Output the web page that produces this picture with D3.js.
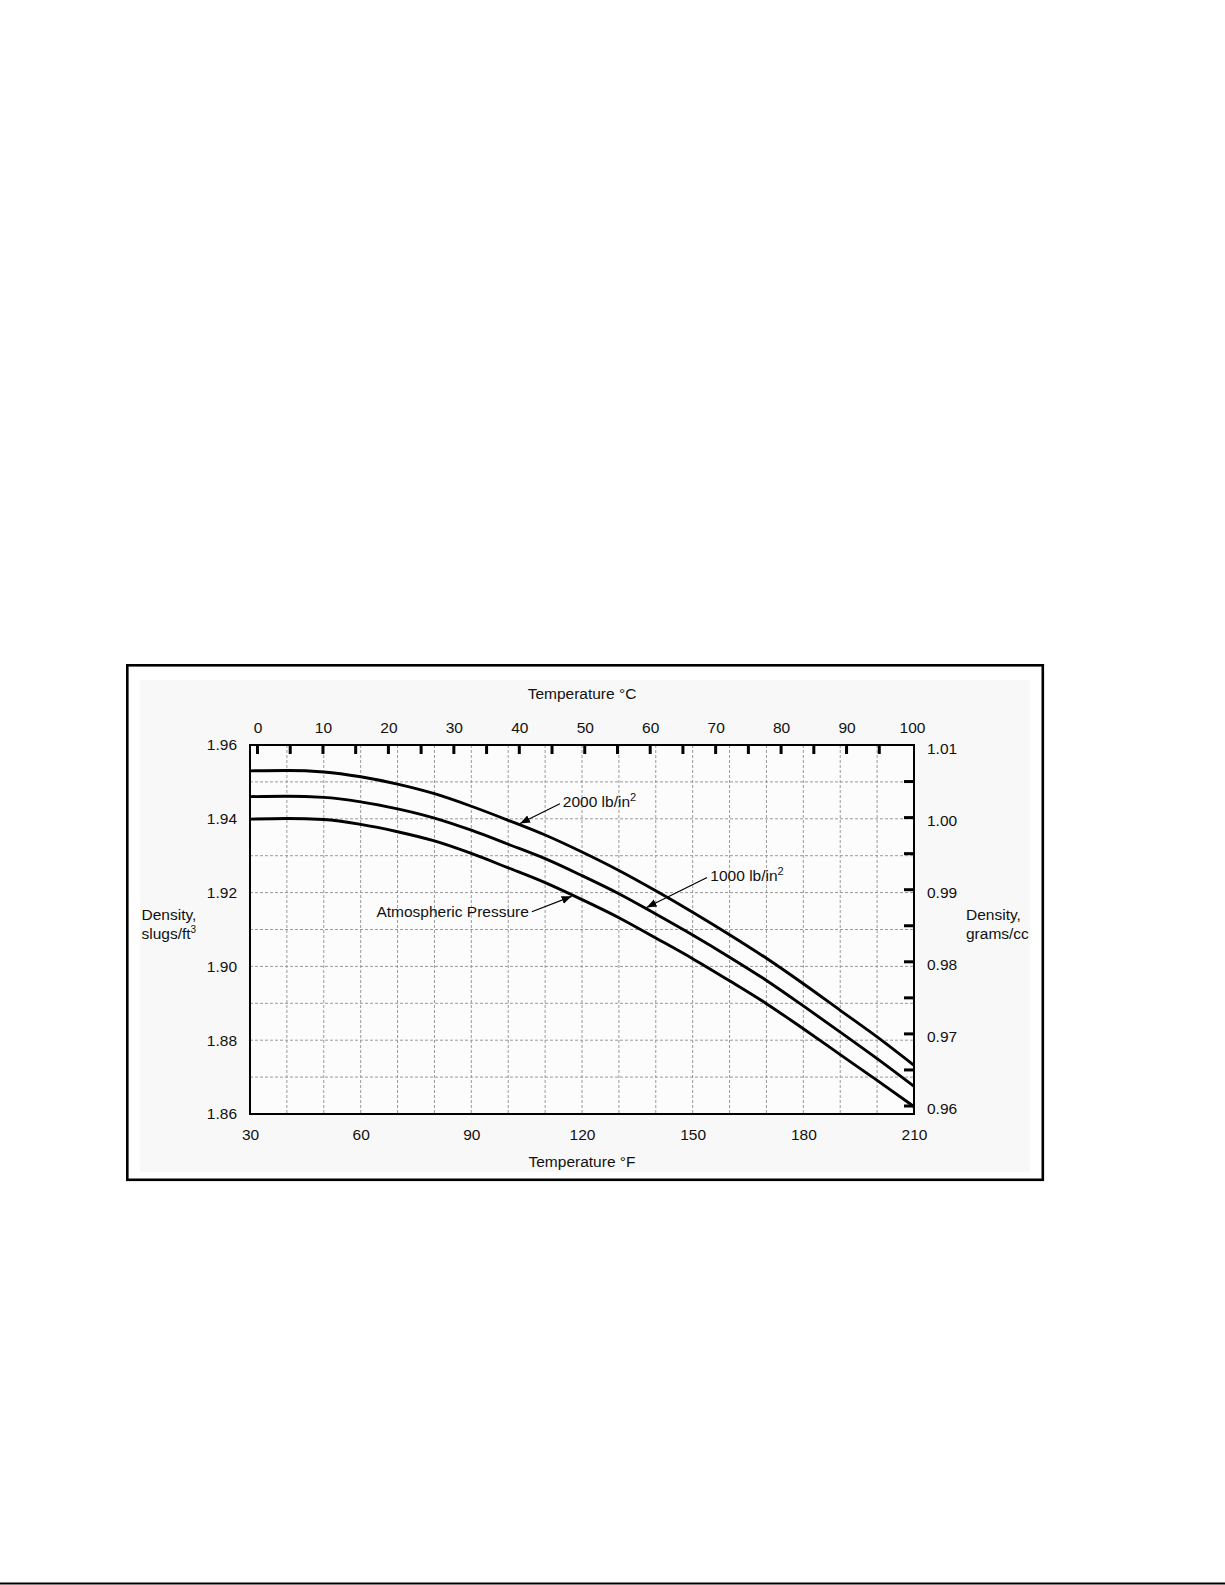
<!DOCTYPE html>
<html>
<head>
<meta charset="utf-8">
<script src="https://cdn.jsdelivr.net/npm/d3@7"></script>
<style>
  html, body { margin: 0; padding: 0; background: #fff; }
  svg { display: block; }
  text { font-family: "Liberation Sans", Arial, sans-serif; fill: #111; }
</style>
</head>
<body>
<svg id="chart" width="1225" height="1585"></svg>
<script>
// ---------------- data ----------------
const tempF = [30, 40, 50, 60, 70, 80, 90, 100, 110, 120, 130, 140, 150, 160, 170, 180, 190, 200, 210];
const densityAtm = [1.9399, 1.9401, 1.9398, 1.9385, 1.9365, 1.9340, 1.9306, 1.9267, 1.9227, 1.9181,
                    1.9132, 1.9077, 1.9021, 1.8961, 1.8899, 1.8831, 1.8761, 1.8691, 1.8620];
const density1000 = [1.9460, 1.9461, 1.9458, 1.9446, 1.9427, 1.9402, 1.9369, 1.9331, 1.9292, 1.9246,
                     1.9197, 1.9142, 1.9085, 1.9025, 1.8962, 1.8893, 1.8822, 1.8750, 1.8675];
const density2000 = [1.9530, 1.9531, 1.9527, 1.9514, 1.9494, 1.9468, 1.9434, 1.9396, 1.9356, 1.9310,
                     1.9260, 1.9205, 1.9147, 1.9086, 1.9022, 1.8953, 1.8881, 1.8809, 1.8732];

const fTickLabels = [30, 60, 90, 120, 150, 180, 210];
const fGrid = [40, 50, 60, 70, 80, 90, 100, 110, 120, 130, 140, 150, 160, 170, 180, 190, 200];
const cTickLabels = [0, 10, 20, 30, 40, 50, 60, 70, 80, 90, 100];
const cTickMarks = [0, 5, 10, 15, 20, 25, 30, 35, 40, 45, 50, 55, 60, 65, 70, 75, 80, 85, 90, 95];
const slugTickLabels = [1.86, 1.88, 1.90, 1.92, 1.94, 1.96];
const slugGrid = [1.87, 1.88, 1.89, 1.90, 1.91, 1.92, 1.93, 1.94, 1.95];
const gccTickLabels = [0.96, 0.97, 0.98, 0.99, 1.00, 1.01];
const gccTickMarks = [0.96, 0.965, 0.97, 0.975, 0.98, 0.985, 0.99, 0.995, 1.00, 1.005];

// annotations: label, label anchor (°F, slugs), arrow start (°F, slugs), arrow tip °F on series
const annotations = [
  { label: "2000 lb/in", sup: "2", anchor: "start", tx: 114.8, ty: 1.9432, sx: 114.0, sy: 1.9441, tipF: 103.2, series: 2 },
  { label: "1000 lb/in", sup: "2", anchor: "start", tx: 154.8, ty: 1.9231, sx: 153.9, sy: 1.9241, tipF: 137.5, series: 1 },
  { label: "Atmospheric Pressure", sup: "", anchor: "end", tx: 105.6, ty: 1.9133, sx: 106.4, sy: 1.9148, tipF: 117.2, series: 0 }
];

// ---------------- layout ----------------
const svg = d3.select("#chart");
const L = 250, R = 914, T = 745, B = 1114;
const FS = 15.5;

const x = d3.scaleLinear().domain([30, 210]).range([L, R]);
const y = d3.scaleLinear().domain([1.86, 1.96]).range([B, T]);
const xC = d3.scaleLinear().domain([0, 100]).range([257.5, 912]);
const yR = d3.scaleLinear().domain([0.96, 1.01]).range([1106, 745.5]);

// outer panel
svg.append("rect").attr("x", 140).attr("y", 680).attr("width", 890).attr("height", 492)
  .attr("fill", "#f8f8f8");
svg.append("rect").attr("x", 127.3).attr("y", 665.3).attr("width", 915.5).attr("height", 514.5)
  .attr("fill", "none").attr("stroke", "#000").attr("stroke-width", 2.6);

// bottom page rule
svg.append("line").attr("x1", 0).attr("x2", 1225).attr("y1", 1583.5).attr("y2", 1583.5)
  .attr("stroke", "#000").attr("stroke-width", 2);

// plot background
svg.append("rect").attr("x", L).attr("y", T).attr("width", R - L).attr("height", B - T).attr("fill", "#fcfcfc");

// grid
const grid = svg.append("g").attr("stroke", "#9a9a9a").attr("stroke-width", 1).attr("stroke-dasharray", "3,2");
grid.selectAll("line.v").data(fGrid).join("line").attr("class", "v")
  .attr("x1", d => x(d)).attr("x2", d => x(d)).attr("y1", T).attr("y2", B);
grid.selectAll("line.h").data(slugGrid).join("line").attr("class", "h")
  .attr("x1", L).attr("x2", R).attr("y1", d => y(d)).attr("y2", d => y(d));

// curves
const seriesList = [densityAtm, density1000, density2000];
const line = d3.line().x(d => x(d[0])).y(d => y(d[1])).curve(d3.curveMonotoneX);
svg.append("g").selectAll("path").data(seriesList).join("path")
  .attr("d", s => line(tempF.map((t, i) => [t, s[i]])))
  .attr("fill", "none").attr("stroke", "#000").attr("stroke-width", 2.9).attr("stroke-linejoin", "round");

// frame
svg.append("rect").attr("x", L).attr("y", T).attr("width", R - L).attr("height", B - T)
  .attr("fill", "none").attr("stroke", "#000").attr("stroke-width", 2);

// top (°C) tick marks, inward
svg.append("g").selectAll("line").data(cTickMarks).join("line")
  .attr("x1", d => xC(d)).attr("x2", d => xC(d)).attr("y1", T).attr("y2", T + 9)
  .attr("stroke", "#000").attr("stroke-width", 3);

// right (g/cc) tick marks, inward
svg.append("g").selectAll("line").data(gccTickMarks).join("line")
  .attr("x1", R - 10).attr("x2", R).attr("y1", d => yR(d)).attr("y2", d => yR(d))
  .attr("stroke", "#000").attr("stroke-width", 3);

function styleAxis(g) {
  g.select(".domain").remove();
  g.selectAll("text").attr("font-size", FS).attr("font-family", "Liberation Sans, Arial, sans-serif").attr("fill", "#111");
}

// axes
svg.append("g").attr("transform", `translate(${L},0)`)
  .call(d3.axisLeft(y).tickValues(slugTickLabels).tickFormat(d3.format(".2f")).tickSize(0).tickPadding(13))
  .call(styleAxis);
svg.append("g").attr("transform", `translate(${R},0)`)
  .call(d3.axisRight(yR).tickValues(gccTickLabels).tickFormat(d3.format(".2f")).tickSize(0).tickPadding(13))
  .call(styleAxis)
  .selectAll("text").attr("dy", "0.5em");
svg.append("g").attr("transform", `translate(0,${B})`)
  .call(d3.axisBottom(x).tickValues(fTickLabels).tickFormat(d3.format("d")).tickSize(0).tickPadding(15))
  .call(styleAxis);
svg.append("g").attr("transform", `translate(0,${T})`)
  .call(d3.axisTop(xC).tickValues(cTickLabels).tickFormat(d3.format("d")).tickSize(0).tickPadding(12.5))
  .call(styleAxis);

// axis titles
svg.append("text").attr("x", 582).attr("y", 699).attr("text-anchor", "middle").attr("font-size", FS).text("Temperature °C");
svg.append("text").attr("x", 582).attr("y", 1167).attr("text-anchor", "middle").attr("font-size", FS).text("Temperature °F");

const lt = svg.append("text").attr("font-size", FS);
lt.append("tspan").attr("x", 141.5).attr("y", 920).text("Density,");
const lt2 = lt.append("tspan").attr("x", 141.5).attr("y", 939).text("slugs/ft");
lt.append("tspan").attr("font-size", 10).attr("dy", -6).text("3");

const rt = svg.append("text").attr("font-size", FS);
rt.append("tspan").attr("x", 966).attr("y", 920).text("Density,");
rt.append("tspan").attr("x", 966).attr("y", 939).text("grams/cc");

// annotations
const defs = svg.append("defs");
defs.append("marker").attr("id", "arrowhead").attr("markerUnits", "userSpaceOnUse")
  .attr("markerWidth", 12).attr("markerHeight", 10).attr("refX", 10).attr("refY", 4)
  .attr("orient", "auto")
  .append("path").attr("d", "M0,0 L10,4 L0,8 Z").attr("fill", "#000");

function valueAt(series, f) {
  const i = d3.bisectRight(tempF, f) - 1;
  const t = (f - tempF[i]) / (tempF[i + 1] - tempF[i]);
  return series[i] + t * (series[i + 1] - series[i]);
}

annotations.forEach(a => {
  const s = seriesList[a.series];
  const tipY = y(valueAt(s, a.tipF));
  svg.append("line")
    .attr("x1", x(a.sx)).attr("y1", y(a.sy))
    .attr("x2", x(a.tipF)).attr("y2", tipY + (a.series === 0 ? 1.5 : -1.5))
    .attr("stroke", "#000").attr("stroke-width", 1.2)
    .attr("marker-end", "url(#arrowhead)");
  const t = svg.append("text").attr("x", x(a.tx)).attr("y", y(a.ty))
    .attr("text-anchor", a.anchor).attr("font-size", FS);
  t.append("tspan").text(a.label);
  if (a.sup) t.append("tspan").attr("font-size", 11).attr("dy", -6).text(a.sup);
});
</script>
</body>
</html>
